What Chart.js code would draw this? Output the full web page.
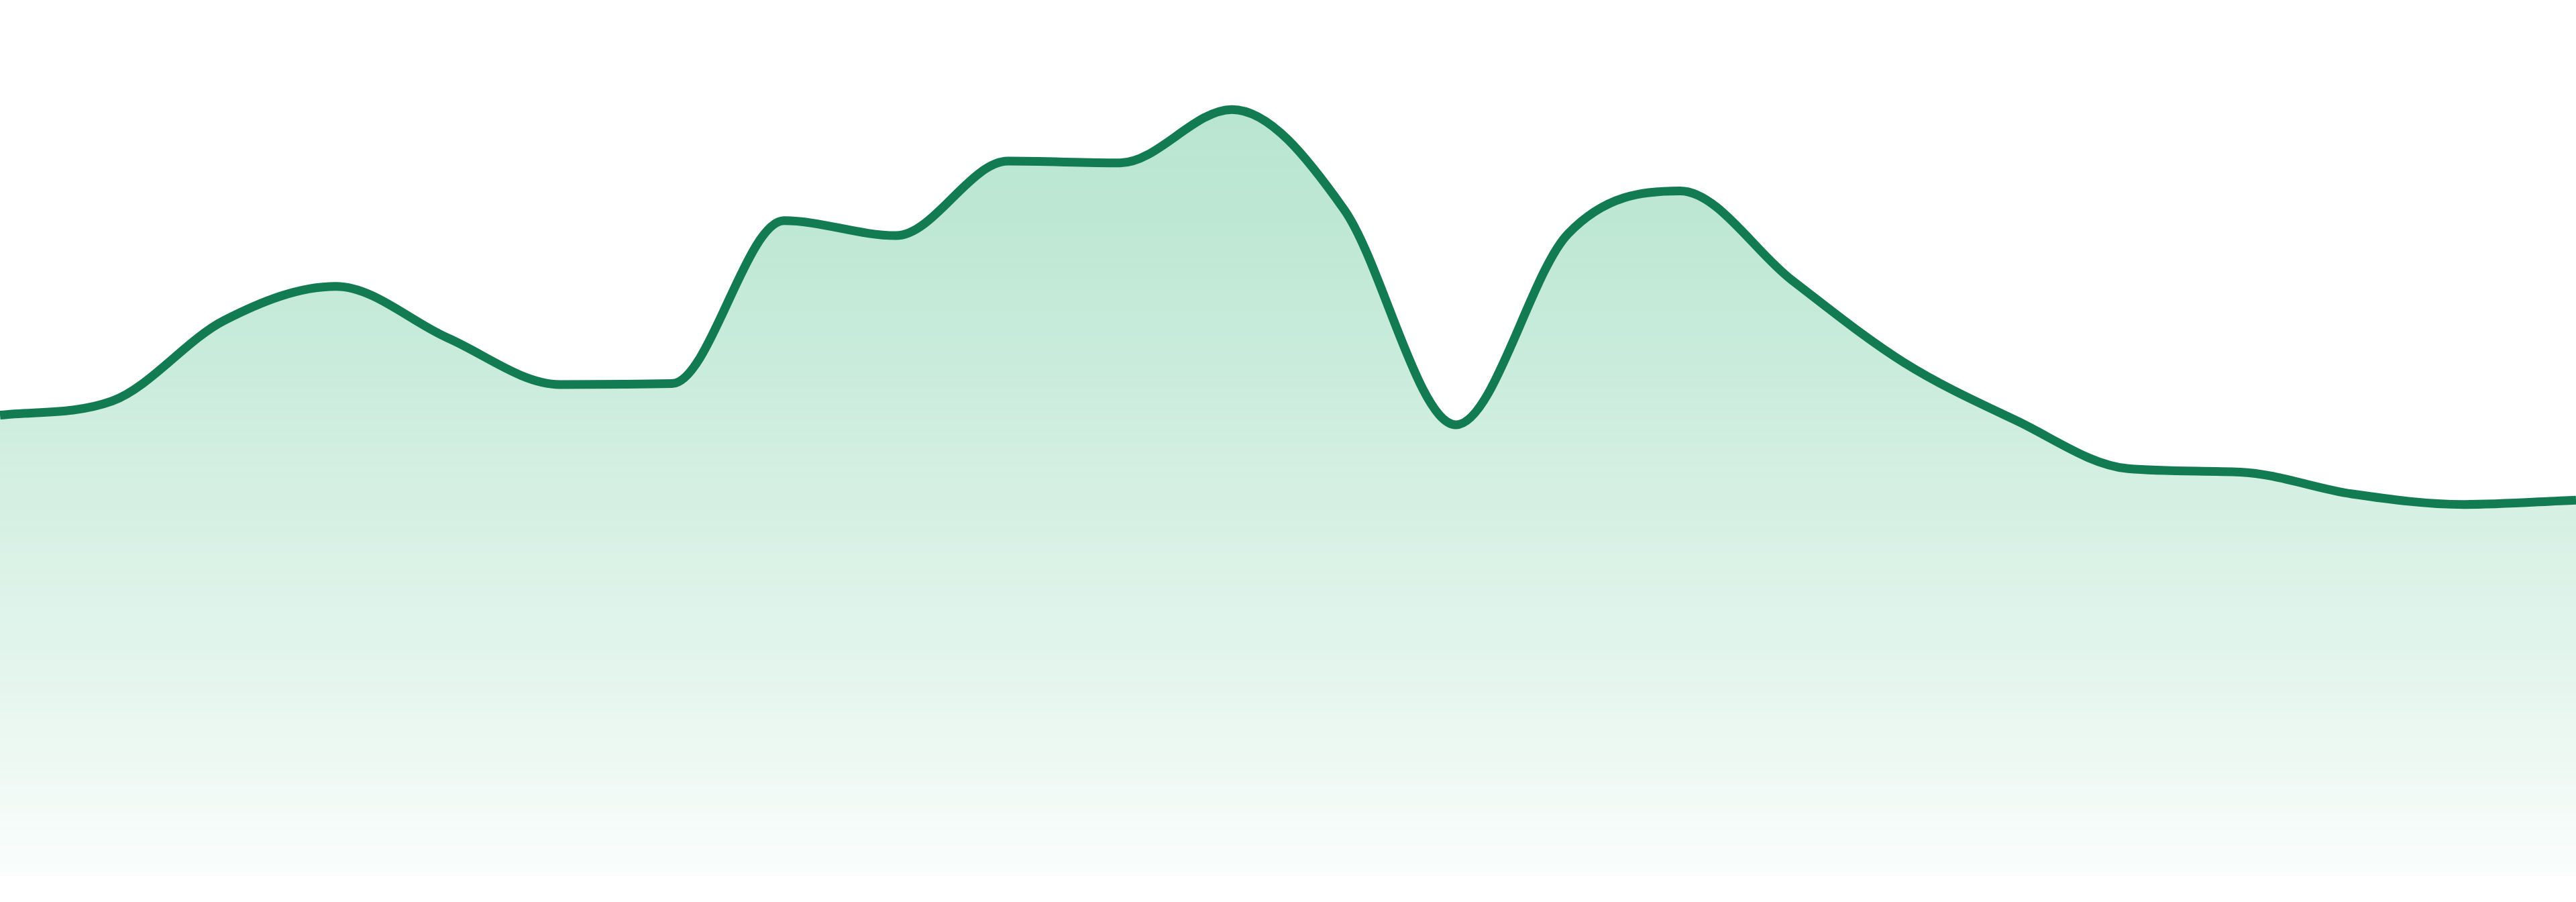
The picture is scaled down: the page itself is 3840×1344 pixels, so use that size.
<!DOCTYPE html>
<html>
<head>
<meta charset="utf-8">
<script src="https://cdn.jsdelivr.net/npm/chart.js@4"></script>
<style>
  html, body { margin: 0; padding: 0; background: #ffffff; overflow: hidden; }
  #wrap { width: 100vw; height: 100vh; position: relative; }
</style>
</head>
<body>
<div id="wrap"><canvas id="myChart"></canvas></div>
<script>
// categories (no labels are shown on the chart)
const labels = ['1', '2', '3', '4', '5', '6', '7', '8', '9', '10', '11', '12',
  '13', '14', '15', '16', '17', '18', '19', '20', '21', '22', '23', '24'];

// series values
const values = [52.6, 54.2, 63.4, 67.3, 61.4, 56.1, 56.2, 74.8, 73.1, 81.6, 81.4, 87.5,
  76.1, 51.5, 73.3, 78.2, 68.0, 58.6, 52.0, 46.5, 46.1, 43.6, 42.4, 42.9];

const yMin = 0;
const yMax = 100;

function areaGradient(context) {
  const chart = context.chart;
  const area = chart.chartArea;
  if (!area) return 'rgba(20,170,100,0.25)';
  const g = chart.ctx.createLinearGradient(0, area.top, 0, area.bottom);
  g.addColorStop(0, 'rgba(20,170,100,0.32)');
  g.addColorStop(0.25, 'rgba(20,170,100,0.28)');
  g.addColorStop(0.75, 'rgba(20,170,100,0.12)');
  g.addColorStop(1, 'rgba(20,170,100,0.02)');
  return g;
}

const ctx = document.getElementById('myChart');

new Chart(ctx, {
  type: 'line',
  data: {
    labels: labels,
    datasets: [{
      data: values,
      borderColor: '#127b52',
      borderWidth: 13,
      backgroundColor: areaGradient,
      fill: 'start',
      cubicInterpolationMode: 'monotone',
      pointRadius: 0,
      pointHoverRadius: 0
    }]
  },
  options: {
    responsive: true,
    maintainAspectRatio: false,
    animation: false,
    layout: { padding: { top: 0, bottom: 39, left: 0, right: 0 } },
    plugins: {
      legend: { display: false },
      tooltip: { enabled: false }
    },
    scales: {
      x: { display: false, offset: false },
      y: { display: false, min: yMin, max: yMax }
    }
  }
});
</script>
</body>
</html>
